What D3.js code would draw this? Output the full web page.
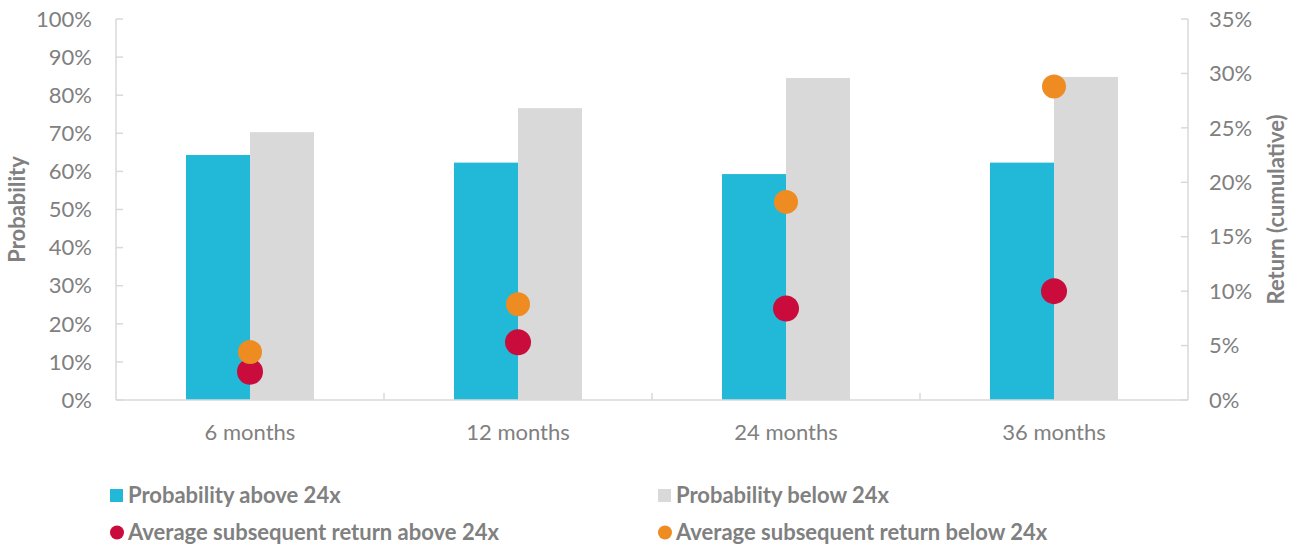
<!DOCTYPE html>
<html>
<head>
<meta charset="utf-8">
<script src="https://cdn.jsdelivr.net/npm/d3@7"></script>
<style>
  body { margin: 0; background: #fff; }
  text { font-family: Lato, "Open Sans", sans-serif; fill: #808080; }
</style>
</head>
<body>
<script>
// chart data
let categories = ["6 months", "12 months", "24 months", "36 months"];
let probAbove = [0.643, 0.623, 0.593, 0.623];
let probBelow = [0.703, 0.766, 0.845, 0.848];
let retAbove = [0.026, 0.053, 0.084, 0.100];
let retBelow = [0.044, 0.088, 0.182, 0.288];
let leftTicks = [0, 0.1, 0.2, 0.3, 0.4, 0.5, 0.6, 0.7, 0.8, 0.9, 1.0];
let rightTicks = [0, 0.05, 0.10, 0.15, 0.20, 0.25, 0.30, 0.35];

let width = 1298;
let height = 547;
let plotLeft = 116, plotRight = 1188, plotTop = 19, plotBottom = 400;
let fontSize = 22;

let colors = {
    above: "#22B9D8",
    below: "#D9D9D9",
    retAbove: "#C90C3C",
    retBelow: "#EE8C22"
};

let svg = d3.select("body").append("svg")
    .attr("width", width)
    .attr("height", height);

let x = d3.scaleBand()
    .domain(categories)
    .range([plotLeft, plotRight]);

let yLeft = d3.scaleLinear().domain([0, 1]).range([plotBottom, plotTop]);
let yRight = d3.scaleLinear().domain([0, 0.35]).range([plotBottom, plotTop]);

let barW = 64;

// bars
svg.selectAll(".bar-above")
    .data(categories)
    .join("rect")
    .attr("class", "bar-above")
    .attr("x", d => x(d) + x.bandwidth() / 2 - barW)
    .attr("y", (d, i) => yLeft(probAbove[i]))
    .attr("width", barW)
    .attr("height", (d, i) => plotBottom - yLeft(probAbove[i]))
    .attr("fill", colors.above);

svg.selectAll(".bar-below")
    .data(categories)
    .join("rect")
    .attr("class", "bar-below")
    .attr("x", d => x(d) + x.bandwidth() / 2)
    .attr("y", (d, i) => yLeft(probBelow[i]))
    .attr("width", barW)
    .attr("height", (d, i) => plotBottom - yLeft(probBelow[i]))
    .attr("fill", colors.below);

// axis lines
let axisColor = "#D9D9D9";
svg.append("line")
    .attr("x1", plotLeft).attr("x2", plotLeft)
    .attr("y1", plotTop).attr("y2", plotBottom)
    .attr("stroke", axisColor).attr("stroke-width", 1.5);
svg.append("line")
    .attr("x1", plotRight).attr("x2", plotRight)
    .attr("y1", plotTop).attr("y2", plotBottom)
    .attr("stroke", axisColor).attr("stroke-width", 1.5);
svg.append("line")
    .attr("x1", plotLeft).attr("x2", plotRight)
    .attr("y1", plotBottom).attr("y2", plotBottom)
    .attr("stroke", axisColor).attr("stroke-width", 1.5);

// left ticks
svg.selectAll(".ltick")
    .data(leftTicks)
    .join("line")
    .attr("class", "ltick")
    .attr("x1", plotLeft).attr("x2", plotLeft + 7)
    .attr("y1", d => yLeft(d)).attr("y2", d => yLeft(d))
    .attr("stroke", axisColor).attr("stroke-width", 1.5);

svg.selectAll(".llabel")
    .data(leftTicks)
    .join("text")
    .attr("class", "llabel")
    .attr("x", 92)
    .attr("y", d => yLeft(d))
    .attr("dy", "0.35em")
    .attr("text-anchor", "end")
    .attr("font-size", fontSize)
    .text(d => d3.format(".0%")(d));

// right ticks
svg.selectAll(".rtick")
    .data(rightTicks)
    .join("line")
    .attr("class", "rtick")
    .attr("x1", plotRight - 7).attr("x2", plotRight)
    .attr("y1", d => yRight(d)).attr("y2", d => yRight(d))
    .attr("stroke", axisColor).attr("stroke-width", 1.5);

svg.selectAll(".rlabel")
    .data(rightTicks)
    .join("text")
    .attr("class", "rlabel")
    .attr("x", 1209)
    .attr("y", d => yRight(d))
    .attr("dy", "0.35em")
    .attr("text-anchor", "start")
    .attr("font-size", fontSize)
    .text(d => d3.format(".0%")(d));

// category ticks
let catTicks = categories.slice(1).map(c => x(c));
svg.selectAll(".ctick")
    .data(catTicks)
    .join("line")
    .attr("class", "ctick")
    .attr("x1", d => d).attr("x2", d => d)
    .attr("y1", plotBottom - 7).attr("y2", plotBottom)
    .attr("stroke", axisColor).attr("stroke-width", 1.5);

svg.selectAll(".clabel")
    .data(categories)
    .join("text")
    .attr("class", "clabel")
    .attr("x", d => x(d) + x.bandwidth() / 2)
    .attr("y", 432)
    .attr("dy", "0.35em")
    .attr("text-anchor", "middle")
    .attr("font-size", fontSize)
    .text(d => d);

// dots
svg.selectAll(".dot-above")
    .data(categories)
    .join("circle")
    .attr("class", "dot-above")
    .attr("cx", d => x(d) + x.bandwidth() / 2)
    .attr("cy", (d, i) => yRight(retAbove[i]))
    .attr("r", 13)
    .attr("fill", colors.retAbove);

svg.selectAll(".dot-below")
    .data(categories)
    .join("circle")
    .attr("class", "dot-below")
    .attr("cx", d => x(d) + x.bandwidth() / 2)
    .attr("cy", (d, i) => yRight(retBelow[i]))
    .attr("r", 12)
    .attr("fill", colors.retBelow);

// axis titles
svg.append("text")
    .attr("transform", `translate(17,${(plotTop + plotBottom) / 2}) rotate(-90)`)
    .attr("dy", "0.35em")
    .attr("text-anchor", "middle")
    .attr("font-size", fontSize)
    .attr("font-weight", "bold")
    .text("Probability");

svg.append("text")
    .attr("transform", `translate(1276,${(plotTop + plotBottom) / 2}) rotate(-90)`)
    .attr("dy", "0.35em")
    .attr("text-anchor", "middle")
    .attr("font-size", fontSize)
    .attr("font-weight", "bold")
    .text("Return (cumulative)");

// legend
let legendItems = [
    {name: "Probability above 24x", color: colors.above, shape: "rect", x: 110, y: 495},
    {name: "Probability below 24x", color: colors.below, shape: "rect", x: 658, y: 495},
    {name: "Average subsequent return above 24x", color: colors.retAbove, shape: "circle", x: 110, y: 532},
    {name: "Average subsequent return below 24x", color: colors.retBelow, shape: "circle", x: 658, y: 532}
];

let legend = svg.append("g").attr("class", "legend");
legendItems.forEach(d => {
    if (d.shape === "rect") {
        legend.append("rect")
            .attr("x", d.x).attr("y", d.y - 6)
            .attr("width", 13).attr("height", 13)
            .attr("fill", d.color);
    } else {
        legend.append("circle")
            .attr("cx", d.x + 7).attr("cy", d.y + 0.5)
            .attr("r", 7)
            .attr("fill", d.color);
    }
    legend.append("text")
        .attr("x", d.x + 18)
        .attr("y", d.y)
        .attr("dy", "0.35em")
        .attr("font-size", fontSize)
        .attr("font-weight", "bold")
        .text(d.name);
});
</script>
</body>
</html>
